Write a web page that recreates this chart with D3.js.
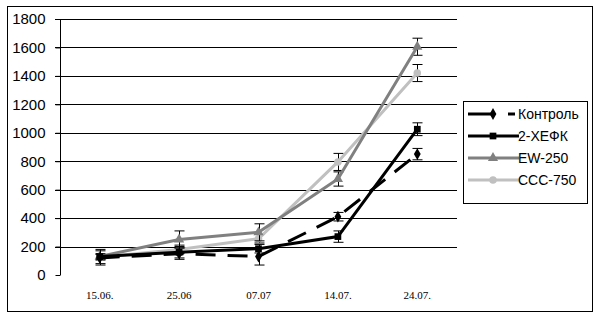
<!DOCTYPE html>
<html>
<head>
<meta charset="utf-8">
<script src="https://cdn.jsdelivr.net/npm/d3@7"></script>
<style>
  body { margin: 0; background: #fff; }
  svg { display: block; }
</style>
</head>
<body>
<div id="chart"></div>
<script>
// dates on the x axis
var dates = ["15.06.", "25.06", "07.07", "14.07.", "24.07."];
var yTicks = [0, 200, 400, 600, 800, 1000, 1200, 1400, 1600, 1800];

// series values
var kontrol    = [120, 150, 130, 410, 850];
var kontrolErr = [50, 40, 60, 30, 40];
var xefk       = [130, 160, 185, 270, 1025];
var xefkErr    = [50, 40, 30, 40, 45];
var ew250      = [130, 250, 300, 675, 1605];
var ew250Err   = [20, 60, 60, 50, 60];
var ccc750     = [125, 180, 255, 795, 1420];
var ccc750Err  = [20, 30, 30, 60, 60];

var seriesNames = ["Контроль", "2-ХЕФК", "EW-250", "CCC-750"];

var series = [
  {name: seriesNames[0], values: kontrol, err: kontrolErr, color: "#000", dash: "20,12", marker: d3.symbolDiamond, size: 40},
  {name: seriesNames[1], values: xefk, err: xefkErr, color: "#000", dash: null, marker: d3.symbolSquare, size: 45},
  {name: seriesNames[2], values: ew250, err: ew250Err, color: "#808080", dash: null, marker: d3.symbolTriangle, size: 45},
  {name: seriesNames[3], values: ccc750, err: ccc750Err, color: "#c0c0c0", dash: null, marker: d3.symbolCircle, size: 45}
];

var width = 600, height = 317;
var svg = d3.select("#chart").append("svg")
  .attr("width", width)
  .attr("height", height);

// outer frame
svg.append("rect")
  .attr("x", 7.5).attr("y", 6.5)
  .attr("width", 585).attr("height", 305)
  .attr("fill", "none").attr("stroke", "#000");

var x = d3.scaleBand().domain(dates).range([60, 457]);
var y = d3.scaleLinear().domain([0, 1800]).range([275, 19]);

// gridlines
svg.append("g")
  .selectAll("line")
  .data(yTicks.filter(d => d > 0))
  .enter().append("line")
  .attr("x1", 55).attr("x2", 457)
  .attr("y1", d => Math.round(y(d)) + 0.5)
  .attr("y2", d => Math.round(y(d)) + 0.5)
  .attr("stroke", "#000");

// y axis
var yAxis = svg.append("g")
  .attr("transform", "translate(60.5,0)")
  .call(d3.axisLeft(y).tickValues(yTicks).tickFormat(d3.format("d")).tickSize(5).tickPadding(10));
yAxis.select(".domain").attr("d", "M0," + y(1800) + "V" + y(0));
yAxis.selectAll("text")
  .attr("font-family", "Liberation Sans, Arial, sans-serif")
  .attr("font-size", 15).attr("fill", "#000");

// x labels
svg.append("g")
  .selectAll("text")
  .data(dates)
  .enter().append("text")
  .attr("x", d => x(d) + x.bandwidth() / 2)
  .attr("y", 299)
  .attr("text-anchor", "middle")
  .attr("font-family", "Liberation Serif, Times New Roman, serif")
  .attr("font-size", 11)
  .text(d => d);

var cx = (d, i) => x(dates[i]) + x.bandwidth() / 2;

var line = d3.line()
  .x((d, i) => cx(d, i))
  .y(d => y(d));

// draw in reverse so black series sit on top like the picture
series.slice().reverse().forEach(function(s) {
  var g = svg.append("g");

  // error bars
  s.values.forEach(function(v, i) {
    var px = Math.round(cx(v, i)) + 0.5;
    var top = y(v + s.err[i]), bot = y(v - s.err[i]);
    g.append("line").attr("x1", px).attr("x2", px).attr("y1", top).attr("y2", bot).attr("stroke", "#000");
    g.append("line").attr("x1", px - 5).attr("x2", px + 5).attr("y1", top).attr("y2", top).attr("stroke", "#000");
    g.append("line").attr("x1", px - 5).attr("x2", px + 5).attr("y1", bot).attr("y2", bot).attr("stroke", "#000");
  });

  g.append("path")
    .datum(s.values)
    .attr("d", line)
    .attr("fill", "none")
    .attr("stroke", s.color)
    .attr("stroke-width", 3)
    .attr("stroke-dasharray", s.dash);

  g.selectAll(".mk")
    .data(s.values)
    .enter().append("path")
    .attr("class", "mk")
    .attr("transform", (d, i) => "translate(" + cx(d, i) + "," + y(d) + ")")
    .attr("d", d3.symbol().type(s.marker).size(s.size))
    .attr("fill", s.color);
});

// legend
var legend = svg.append("g");
legend.append("rect")
  .attr("x", 463.5).attr("y", 101.5)
  .attr("width", 124).attr("height", 102)
  .attr("fill", "#fff").attr("stroke", "#000");

series.forEach(function(s, i) {
  var ly = 114 + i * 22;
  if (s.dash) {
    legend.append("line").attr("x1", 468).attr("x2", 492).attr("y1", ly).attr("y2", ly)
      .attr("stroke", s.color).attr("stroke-width", 3);
    legend.append("line").attr("x1", 508).attr("x2", 515).attr("y1", ly).attr("y2", ly)
      .attr("stroke", s.color).attr("stroke-width", 3);
  } else {
    legend.append("line").attr("x1", 468).attr("x2", 519).attr("y1", ly).attr("y2", ly)
      .attr("stroke", s.color).attr("stroke-width", 3);
  }
  legend.append("path")
    .attr("transform", "translate(493," + ly + ")")
    .attr("d", d3.symbol().type(s.marker).size(s.size))
    .attr("fill", s.color);
  legend.append("text")
    .attr("x", 518).attr("y", ly + 5)
    .attr("font-family", "Liberation Sans, Arial, sans-serif")
    .attr("font-size", 14)
    .text(s.name);
});
</script>
</body>
</html>
